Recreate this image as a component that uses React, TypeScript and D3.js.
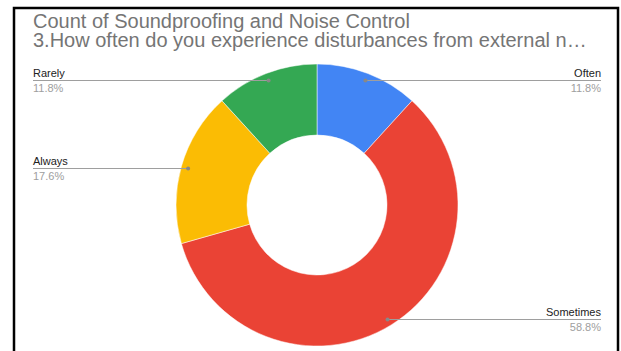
import React from "react";
import * as d3 from "d3";

const categories = ["Often", "Sometimes", "Always", "Rarely"];
const counts = [2, 10, 3, 2];
const colors = ["#4285F4", "#EA4335", "#FBBC04", "#34A853"];
const titleLines = [
  "Count of Soundproofing and Noise Control",
  "3.How often do you experience disturbances from external n…",
];

export default function App() {
  const W = 621;
  const H = 351;
  const cx = 317;
  const cy = 205;
  const outerR = 141;
  const innerR = 70;
  const total = d3.sum(counts);
  const pie = d3.pie<number>().sort(null).value((d) => d);
  const arcs = pie(counts);
  const arcGen = d3.arc<d3.PieArcDatum<number>>().innerRadius(innerR).outerRadius(outerR);
  const fmt = d3.format(".1%");
  const dotR = 134;
  const leftX = 33;
  const rightX = 601;
  const font = "'Liberation Sans', Arial, sans-serif";

  return (
    <svg width={W} height={H} style={{ position: "absolute", left: 0, top: 0, background: "#fff" }}>
      <rect x={0} y={0} width={W} height={H} fill="#fff" />
      {/* frame */}
      <path d={`M14,${H} V8 H618 V${H}`} fill="none" stroke="#000" strokeWidth={2.5} />
      {titleLines.map((t, i) => (
        <text key={i} x={33} y={28 + i * 19} fontFamily={font} fontSize={20} fill="#757575">
          {t}
        </text>
      ))}
      <g transform={`translate(${cx},${cy})`}>
        {arcs.map((a, i) => (
          <path key={i} d={arcGen(a) || ""} fill={colors[i]} stroke="#fff" strokeWidth={0.5} />
        ))}
      </g>
      {arcs.map((a, i) => {
        const mid = (a.startAngle + a.endAngle) / 2;
        const px = cx + Math.sin(mid) * dotR;
        const py = cy - Math.cos(mid) * dotR;
        const right = Math.sin(mid) > 0;
        const ly = Math.round(py) + 0.5;
        const tx = right ? rightX : leftX;
        const anchor = right ? "end" : "start";
        return (
          <g key={i}>
            <line x1={px} y1={ly} x2={tx} y2={ly} stroke="#9e9e9e" strokeWidth={1} />
            <circle cx={px} cy={ly} r={2} fill="#888" />
            <text x={tx} y={ly - 4} textAnchor={anchor} fontFamily={font} fontSize={11} fill="#222">
              {categories[i]}
            </text>
            <text x={tx} y={ly + 11} textAnchor={anchor} fontFamily={font} fontSize={11} fill="#9e9e9e">
              {fmt(counts[i] / total)}
            </text>
          </g>
        );
      })}
    </svg>
  );
}
